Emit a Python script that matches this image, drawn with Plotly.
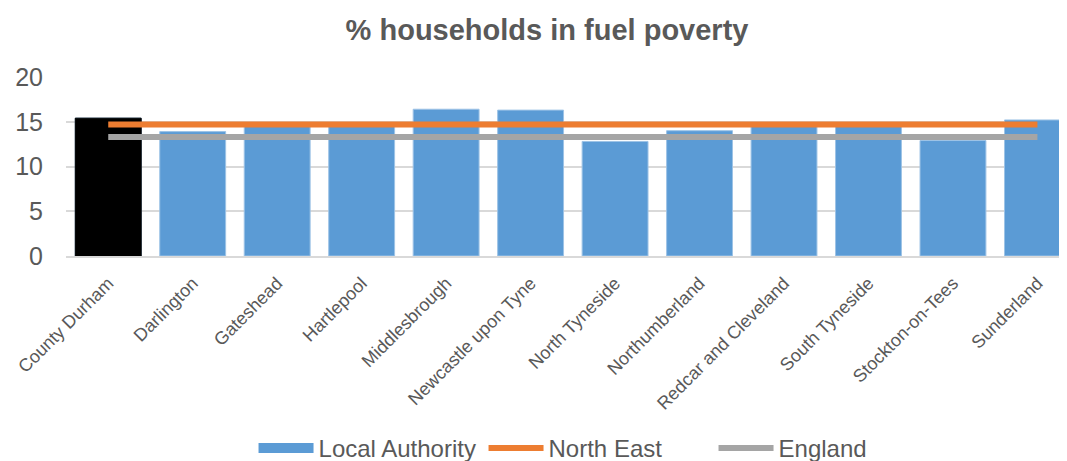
import plotly.graph_objects as go

categories = ["County Durham", "Darlington", "Gateshead", "Hartlepool", "Middlesbrough",
              "Newcastle upon Tyne", "North Tyneside", "Northumberland", "Redcar and Cleveland",
              "South Tyneside", "Stockton-on-Tees", "Sunderland"]
local_authority = [15.4, 13.9, 14.6, 14.6, 16.4, 16.3, 12.8, 14.0, 14.6, 14.6, 12.9, 15.2]
north_east = [14.7] * 12
england = [13.3] * 12
highlight = "County Durham"

BLUE = "#5B9BD5"

fig = go.Figure()
# legend proxy so the legend key is a wide rectangle like the reference
fig.add_trace(go.Scatter(x=[categories[0]], y=[None], name="Local Authority", mode="lines",
                         line=dict(color=BLUE, width=16), legendgroup="la",
                         hoverinfo="skip"))
fig.add_trace(go.Bar(x=categories, y=local_authority, name="Local Authority",
                     showlegend=False, legendgroup="la",
                     marker=dict(color=BLUE, line=dict(color="#9DC3E6", width=1))))
hi_idx = categories.index(highlight)
fig.add_trace(go.Bar(x=[categories[hi_idx]], y=[local_authority[hi_idx]], showlegend=False,
                     legendgroup="la",
                     marker=dict(color="#000000", line=dict(color="#000000", width=1)),
                     hoverinfo="skip"))
fig.add_trace(go.Scatter(x=categories, y=north_east, name="North East", mode="lines",
                         line=dict(color="#ED7D31", width=6)))
fig.add_trace(go.Scatter(x=categories, y=england, name="England", mode="lines",
                         line=dict(color="#A5A5A5", width=6)))

# page body has an 8px margin, so the figure is sized/offset to compensate
fig.update_layout(
    width=1059, height=453,
    margin=dict(l=58, r=0, t=69, b=205, autoexpand=False),
    paper_bgcolor="white", plot_bgcolor="white",
    font=dict(family="Liberation Sans, Arial, sans-serif", color="#595959"),
    title=dict(text="<b>% households in fuel poverty</b>", x=0.509, xanchor="center",
               y=0.951, yanchor="middle", font=dict(size=29, color="#595959")),
    barmode="overlay",
    bargap=0.22,
    showlegend=True,
    legend=dict(orientation="h", x=0.532, xanchor="center", y=-1.075, yanchor="middle",
                font=dict(size=24, color="#595959"), traceorder="normal",
                itemwidth=55, entrywidth=160, entrywidthmode="pixels"),
    xaxis=dict(range=[-0.5, 11.35], tickangle=-45, tickfont=dict(size=18, color="#595959"),
               showgrid=False, showline=True, linecolor="#D9D9D9", linewidth=1.5, ticks="",
               ticklabelstandoff=8),
    yaxis=dict(range=[0, 20], dtick=5, tickfont=dict(size=25, color="#595959"),
               showgrid=True, gridcolor="#D9D9D9", gridwidth=1.5, zeroline=False,
               ticks="", ticklabelstandoff=22),
)
fig.update_xaxes(automargin=False)
fig.update_yaxes(automargin=False)

fig.write_html("out.html")
